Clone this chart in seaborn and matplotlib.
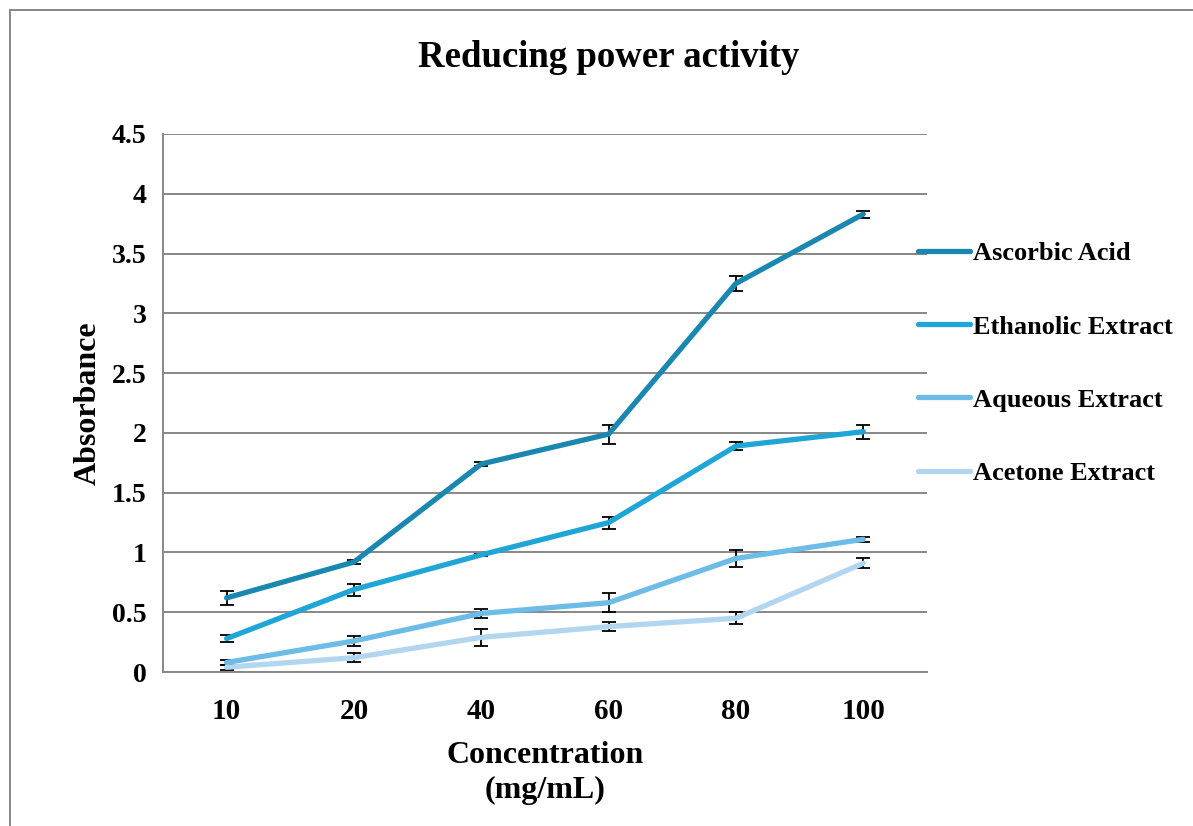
import numpy as np
import pandas as pd
import seaborn as sns
import matplotlib.pyplot as plt
from matplotlib.patches import Rectangle

# Values
concentrations = ["10", "20", "40", "60", "80", "100"]
series_names = ["Ascorbic Acid", "Ethanolic Extract", "Aqueous Extract", "Acetone Extract"]

ascorbic = [0.62, 0.92, 1.74, 1.99, 3.25, 3.83]
ascorbic_err = [0.06, 0.02, 0.02, 0.08, 0.06, 0.03]
ethanolic = [0.28, 0.69, 0.98, 1.25, 1.89, 2.01]
ethanolic_err = [0.03, 0.05, 0.01, 0.05, 0.03, 0.06]
aqueous = [0.08, 0.26, 0.49, 0.58, 0.95, 1.11]
aqueous_err = [0.02, 0.04, 0.04, 0.08, 0.07, 0.02]
acetone = [0.04, 0.12, 0.29, 0.38, 0.45, 0.91]
acetone_err = [0.02, 0.04, 0.07, 0.04, 0.05, 0.04]

colors = ["#1a87b1", "#1fa5d6", "#6dbce7", "#b2d6f0"]

values = [ascorbic, ethanolic, aqueous, acetone]
errors = [ascorbic_err, ethanolic_err, aqueous_err, acetone_err]

df = pd.DataFrame(
    {
        "pos": list(range(len(concentrations))) * len(series_names),
        "absorbance": sum(values, []),
        "series": [s for s in series_names for _ in concentrations],
    }
)

sns.set_style("white")
plt.rcParams["font.family"] = ["Liberation Serif", "DejaVu Serif"]
plt.rcParams["font.weight"] = "bold"
plt.rcParams["text.color"] = "black"
plt.rcParams["xtick.color"] = "black"
plt.rcParams["ytick.color"] = "black"
plt.rcParams["axes.labelcolor"] = "black"

fig = plt.figure(figsize=(11.93, 8.26), dpi=100)
ax = fig.add_axes([0.1366, 0.1864, 0.6404, 0.6514])

grid_col = "#878787"

# Error bars first so lines sit on top
for vals, errs in zip(values, errors):
    ax.errorbar(
        range(len(concentrations)), vals, yerr=errs, fmt="none",
        ecolor="black", elinewidth=1.3, capsize=5, capthick=1.3, zorder=2,
    )

sns.lineplot(
    data=df, x="pos", y="absorbance", hue="series", hue_order=series_names,
    palette=colors, linewidth=3.8, sort=False, ax=ax, zorder=3,
)
for line in ax.get_lines():
    line.set_solid_capstyle("round")

ax.set_xlim(-0.5, len(concentrations) - 0.5)
ax.set_ylim(0, 4.5)
ax.set_yticks(np.arange(0, 4.51, 0.5))
ax.set_yticklabels(["0", "0.5", "1", "1.5", "2", "2.5", "3", "3.5", "4", "4.5"],
                   fontsize=20, fontweight="bold")
ax.set_xticks(range(len(concentrations)))
ax.set_xticklabels(concentrations, fontsize=21, fontweight="bold")
ax.set_xticks(np.arange(-0.5, len(concentrations), 1), minor=True)
ax.tick_params(axis="x", which="major", length=0, pad=19)
ax.tick_params(axis="x", which="minor", length=8, width=1.3, color=grid_col, direction="out")
ax.tick_params(axis="y", length=7, width=1.3, color=grid_col, direction="out", pad=5)

ax.yaxis.grid(True, color=grid_col, linewidth=1.4)
ax.set_axisbelow(True)
for side in ["top", "right"]:
    ax.spines[side].set_visible(False)
for side in ["left", "bottom"]:
    ax.spines[side].set_color(grid_col)
    ax.spines[side].set_linewidth(1.4)

ax.set_xlabel("Concentration\n(mg/mL)", fontsize=23, fontweight="bold", labelpad=11, linespacing=1.3)
ax.set_ylabel("Absorbance", fontsize=23, fontweight="bold", labelpad=6)

fig.text(0.51, 0.93, "Reducing power activity", ha="center", va="center",
         fontsize=26.5, fontweight="bold")

leg = ax.legend(
    loc="upper left", bbox_to_anchor=(0.7695, 0.707), bbox_transform=fig.transFigure,
    frameon=False, fontsize=19, handlelength=1.97, handletextpad=0.1,
    labelspacing=1.88, borderaxespad=0, borderpad=0,
)
for txt in leg.get_texts():
    txt.set_fontweight("bold")
for h in leg.get_lines():
    h.set_linewidth(3.8)

# Outer chart frame (cut by the image edges on the right and bottom)
fig.patches.append(Rectangle((0.0084, -0.05), 1.1, 1.038, transform=fig.transFigure,
                             fill=False, edgecolor=grid_col, linewidth=1.4))

fig.savefig("out.png", dpi=100)
